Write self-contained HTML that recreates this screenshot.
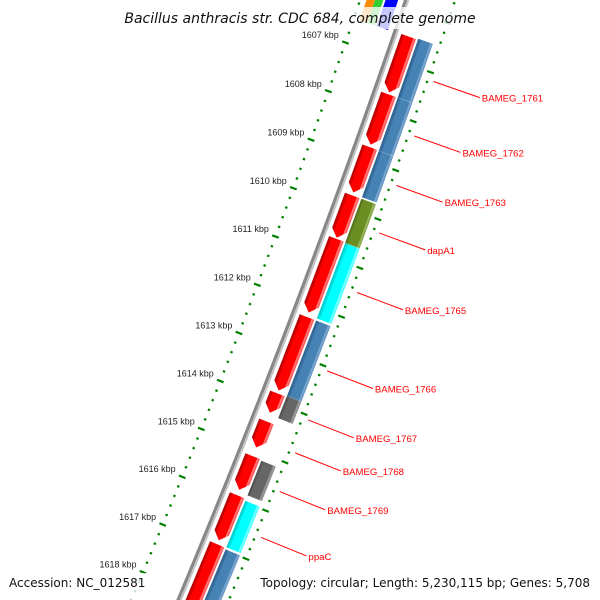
<!DOCTYPE html>
<html><head><meta charset="utf-8">
<style>
html,body{margin:0;padding:0;background:#fff;width:600px;height:600px;overflow:hidden;}
svg{display:block;font-family:"Liberation Sans",sans-serif;overflow:hidden;}
</style></head>
<body>
<svg id="map" width="600" height="600" viewBox="0 0 600 600" xmlns="http://www.w3.org/2000/svg">
<defs>
<clipPath id="frame"><rect x="0" y="0" width="600" height="600"/></clipPath>
<linearGradient id="gRed" x1="0" x2="1" y1="0" y2="0"><stop offset="0" stop-color="#b00000"/><stop offset="0.2" stop-color="#e00000"/><stop offset="0.22" stop-color="#ff0000"/><stop offset="0.8" stop-color="#ff0000"/><stop offset="0.84" stop-color="#ff8080"/><stop offset="1" stop-color="#ff4a4a"/></linearGradient>
<linearGradient id="gBlue" x1="0" x2="1" y1="0" y2="0"><stop offset="0" stop-color="#30618c"/><stop offset="0.2" stop-color="#3a73a5"/><stop offset="0.22" stop-color="#4682b4"/><stop offset="0.8" stop-color="#4682b4"/><stop offset="0.84" stop-color="#7fa8cf"/><stop offset="1" stop-color="#5f93c2"/></linearGradient>
<linearGradient id="gCyan" x1="0" x2="1" y1="0" y2="0"><stop offset="0" stop-color="#00c8c8"/><stop offset="0.2" stop-color="#00e8e8"/><stop offset="0.22" stop-color="#00ffff"/><stop offset="0.8" stop-color="#00ffff"/><stop offset="0.84" stop-color="#80ffff"/><stop offset="1" stop-color="#40ffff"/></linearGradient>
<linearGradient id="gOlive" x1="0" x2="1" y1="0" y2="0"><stop offset="0" stop-color="#4f6a18"/><stop offset="0.22" stop-color="#6b8e23"/><stop offset="0.8" stop-color="#6b8e23"/><stop offset="0.84" stop-color="#9ab860"/><stop offset="1" stop-color="#86a548"/></linearGradient>
<linearGradient id="gGray" x1="0" x2="1" y1="0" y2="0"><stop offset="0" stop-color="#4a4a4a"/><stop offset="0.22" stop-color="#666666"/><stop offset="0.8" stop-color="#666666"/><stop offset="0.84" stop-color="#9a9a9a"/><stop offset="1" stop-color="#888888"/></linearGradient>
</defs>
<g id="layer" clip-path="url(#frame)"></g>
<rect x="124" y="7" width="352" height="22" fill="#fff" fill-opacity="0.78"/>
<text x="300" y="23" text-anchor="middle" font-size="14" font-style="italic" fill="#111" style="font-family:'DejaVu Sans',sans-serif">Bacillus anthracis str. CDC 684, complete genome</text>
<rect x="4" y="573" width="146" height="20" fill="#fff" fill-opacity="0.78"/>
<text x="9" y="587" font-size="12" fill="#111" style="font-family:'DejaVu Sans',sans-serif">Accession: NC_012581</text>
<rect x="256" y="573" width="340" height="20" fill="#fff" fill-opacity="0.78"/>
<text x="590" y="587" text-anchor="end" font-size="12" fill="#111" style="font-family:'DejaVu Sans',sans-serif">Topology: circular; Length: 5,230,115 bp; Genes: 5,708</text>
</svg>
<script>
// data (kbp)
const tickKbp = [1607,1608,1609,1610,1611,1612,1613,1614,1615,1616,1617,1618];
const tickLabels = ["1607 kbp","1608 kbp","1609 kbp","1610 kbp","1611 kbp","1612 kbp","1613 kbp","1614 kbp","1615 kbp","1616 kbp","1617 kbp","1618 kbp"];
const redStart = [1606.49,1607.67,1608.75,1609.74,1610.63,1612.24,1613.82,1614.40,1615.12,1615.93,1616.95];
const redEnd   = [1607.63,1608.70,1609.68,1610.61,1612.15,1613.76,1614.22,1614.94,1615.82,1616.87,1618.90];
const outerStart = [1606.47,1607.67,1608.76,1609.74,1610.65,1612.24,1613.80,1615.14,1615.97,1616.98];
const outerEnd   = [1607.67,1608.76,1609.71,1610.65,1612.20,1613.80,1614.26,1615.86,1616.94,1618.90];
const outerType  = ["blue","blue","blue","olive","cyan","blue","gray","gray","cyan","blue"];
const geneNames = ["BAMEG_1761","BAMEG_1762","BAMEG_1763","dapA1","BAMEG_1765","BAMEG_1766","BAMEG_1767","BAMEG_1768","BAMEG_1769","ppaC"];
const geneLabelKbp = [1607.15,1608.26,1609.27,1610.24,1611.46,1613.07,1614.08,1614.76,1615.56,1616.51];
const innerStart = [1605.0,1605.0,1605.0];
const innerEnd = [1606.5,1606.5,1606.5];
const innerColor = ["#ff8c00","#33cc33","#0000ff"];

const NS="http://www.w3.org/2000/svg";
const R=9500, A0=19.2*Math.PI/180, PXK=51.8, DA=PXK/R;
const CX=387-R*Math.cos(A0), CY=57-R*Math.sin(A0);
function ang(k){return A0+(k-1607)*DA;}
function pos(k,v){const a=ang(k);return [CX+(R+v)*Math.cos(a),CY+(R+v)*Math.sin(a)];}
const layer=document.getElementById('layer');
function mk(tag,attrs,parent){const e=document.createElementNS(NS,tag);for(const k in attrs)e.setAttribute(k,attrs[k]);(parent||layer).appendChild(e);return e;}
function arcPath(v,k1,k2){let d="";for(let k=k1;k<=k2+1e-9;k+=0.1){const p=pos(k,v);d+=(d?"L":"M")+p[0].toFixed(2)+","+p[1].toFixed(2);}return d;}
function local(k){const p=pos(k,0);return "translate("+p[0].toFixed(2)+","+p[1].toFixed(2)+") rotate("+(ang(k)*180/Math.PI).toFixed(3)+")";}

// backbone
let bb=mk('path',{d:arcPath(-1,1605,1618.9),stroke:'#878787','stroke-width':3.2,fill:'none'});


let bb2=mk('path',{d:arcPath(1.6,1605,1618.9),stroke:'#c4c4c4','stroke-width':2,fill:'none'});



// inner ring features at top
const innerV=[[-38,-30],[-30,-22],[-20,-8]];
innerStart.forEach((s,i)=>{
  const e=innerEnd[i],km=(s+e)/2,L=(e-s)*PXK;
  const r=mk('rect',{x:innerV[i][0],y:-L/2,width:innerV[i][1]-innerV[i][0],height:L,fill:innerColor[i],transform:local(km)});
  
  
});

// red features (arrows)
const RV1=6,RV2=21.5;
redStart.forEach((s,i)=>{
  const e=redEnd[i],km=(s+e)/2,L=(e-s)*PXK,h=Math.min(8,L*0.4),vm=(RV1+RV2)/2;
  const pts=[[RV1,-L/2],[RV2,-L/2],[RV2,L/2-h],[vm,L/2],[RV1,L/2-h]].map(p=>p[0].toFixed(2)+","+p[1].toFixed(2)).join(" ");
  const g=mk('polygon',{points:pts,fill:'url(#gRed)',transform:local(km)});
  
  
});

// outer features
const OV1=23.5,OV2=39;
const fills={blue:'url(#gBlue)',cyan:'url(#gCyan)',olive:'url(#gOlive)',gray:'url(#gGray)'};
outerStart.forEach((s,i)=>{
  const e=outerEnd[i],km=(s+e)/2,L=(e-s)*PXK;
  const r=mk('rect',{x:OV1,y:-L/2,width:OV2-OV1,height:L,fill:fills[outerType[i]],transform:local(km)});
  
  
});

// dotted rings + ticks
[[-44,'left'],[46,'right']].forEach(([v,side])=>{
  for(let k=1605.0;k<=1618.9;k+=0.2){
    const kk=Math.round(k*10)/10;
    const major=Math.abs(kk-Math.round(kk))<1e-6;
    const a=pos(kk,v-(major?3.5:1.2)),b=pos(kk,v+(major?3.5:1.2));
    const l=mk('line',{x1:a[0],y1:a[1],x2:b[0],y2:b[1],stroke:'#008000','stroke-width':2.2});
    
    
  }
});
tickKbp.forEach((k,i)=>{
  const p=pos(k,-51);
  const t=mk('text',{x:p[0].toFixed(1),y:(p[1]-2).toFixed(1),'text-anchor':'end','font-size':9,fill:'#222'});
  t.textContent=tickLabels[i];
  
  
});

// gene labels
geneNames.forEach((n,i)=>{
  const k=geneLabelKbp[i];
  const a=pos(k,52),b=pos(k,101);
  const l=mk('line',{x1:a[0],y1:a[1],x2:b[0],y2:b[1],stroke:'#ff0000','stroke-width':1});
  
  
  const t=mk('text',{x:(b[0]+2).toFixed(1),y:(b[1]+4).toFixed(1),'font-size':9.6,fill:'#ff0000'});
  t.textContent=n;
  
  
});
</script>
</body></html>
